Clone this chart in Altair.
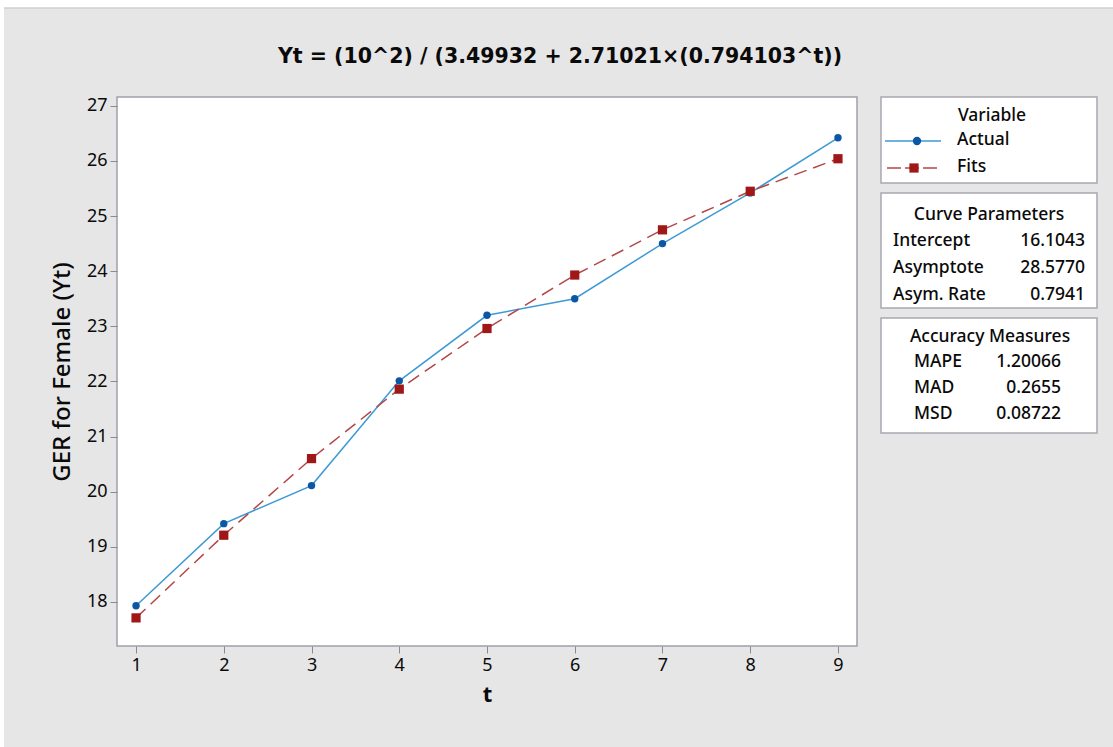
import altair as alt
import pandas as pd

# ---- data ----
t_values = [1, 2, 3, 4, 5, 6, 7, 8, 9]
actual = [17.93, 19.42, 20.11, 22.01, 23.20, 23.50, 24.50, 25.42, 26.42]
fits = [17.71, 19.21, 20.60, 21.86, 22.96, 23.93, 24.75, 25.45, 26.04]
y_ticks = [18, 19, 20, 21, 22, 23, 24, 25, 26, 27]
x_ticks = [1, 2, 3, 4, 5, 6, 7, 8, 9]

title_text = "Yt = (10^2) / (3.49932 + 2.71021×(0.794103^t))"
legend_title = "Variable"
series_names = ["Actual", "Fits"]
curve_title = "Curve Parameters"
curve_labels = ["Intercept", "Asymptote", "Asym. Rate"]
curve_values = ["16.1043", "28.5770", "0.7941"]
acc_title = "Accuracy Measures"
acc_labels = ["MAPE", "MAD", "MSD"]
acc_values = ["1.20066", "0.2655", "0.08722"]

FONT = "Noto Sans"
BLUE_LINE = "#3d9ad6"
BLUE_PT = "#0b57a6"
RED_LINE = "#b34747"
RED_PT = "#a01717"
BOX_STROKE = "#a8a8b0"
TXT = "#0a0a0a"

df = pd.DataFrame({"t": t_values, "Actual": actual, "Fits": fits})

xs = alt.Scale(domain=[0.783, 9.217], nice=False, zero=False)
ys = alt.Scale(domain=[17.2, 27.16], nice=False, zero=False)

x_enc = alt.X("t:Q", scale=xs, title="t",
              axis=alt.Axis(values=x_ticks, format="d", domain=False, grid=False,
                            tickColor="#8a8a94", tickSize=7, labelFontSize=18,
                            labelColor=TXT, labelPadding=3, titleFontSize=22,
                            titleFontWeight="bold", titlePadding=10, titleColor=TXT))

def y_enc(field):
    return alt.Y(f"{field}:Q", scale=ys, title="GER for Female (Yt)",
                 axis=alt.Axis(values=y_ticks, domain=False, grid=False,
                               tickColor="#8a8a94", tickSize=7, labelFontSize=18,
                               labelColor=TXT, labelPadding=3, titleFontSize=24,
                               titleFontWeight=500, titlePadding=12,
                               titleColor=TXT))

base = alt.Chart(df)
actual_line = base.mark_line(color=BLUE_LINE, strokeWidth=1.5).encode(x=x_enc, y=y_enc("Actual"))
actual_pts = base.mark_point(shape="circle", filled=True, color=BLUE_PT, size=55, opacity=1).encode(x=x_enc, y=y_enc("Actual"))
fits_line = base.mark_line(color=RED_LINE, strokeWidth=1.5, strokeDash=[13, 7]).encode(x=x_enc, y=y_enc("Fits"))
fits_pts = base.mark_square(color=RED_PT, size=85, opacity=1).encode(x=x_enc, y=y_enc("Fits"))

one = alt.Data(values=[{"a": 1}])

def txt(s, x, y, size=17.5, align="left", weight=500, font=FONT):
    return alt.Chart(one).mark_text(text=s, fontSize=size, align=align, baseline="middle",
                                    font=font, fontWeight=weight, color=TXT).encode(
        x=alt.value(x), y=alt.value(y))

def box(x1, y1, x2, y2, fill="white", stroke=BOX_STROKE, sw=1.5):
    return alt.Chart(one).mark_rect(fill=fill, stroke=stroke, strokeWidth=sw).encode(
        x=alt.value(x1), x2=alt.value(x2), y=alt.value(y1), y2=alt.value(y2))

def seg(x1, x2, y, color, dash=None):
    kw = dict(color=color, strokeWidth=1.5)
    if dash:
        kw["strokeDash"] = dash
    return alt.Chart(one).mark_rule(**kw).encode(x=alt.value(x1), x2=alt.value(x2), y=alt.value(y))

OX, OY = 117, 97  # plot origin in page pixels

layers = [
    # white page edge strips
    box(-OX, -OY, 1113 - OX, 8 - OY, fill="white", stroke="white", sw=0),
    box(-OX, -OY, 4 - OX, 747 - OY, fill="white", stroke="white", sw=0),
    seg(4 - OX, 1113 - OX, 8 - OY, "#cfcfcf"),
    actual_line, actual_pts, fits_line, fits_pts,
    txt(title_text, 560 - OX, 57 - OY, size=20.5, align="center", weight="bold", font="DejaVu Sans"),
    # legend box
    box(881 - OX, 97 - OY, 1097 - OX, 183 - OY),
    txt(legend_title, 992 - OX, 116 - OY, align="center"),
    seg(885 - OX, 941 - OX, 141 - OY, BLUE_LINE),
    alt.Chart(one).mark_point(shape="circle", filled=True, color=BLUE_PT, size=70, opacity=1).encode(
        x=alt.value(917 - OX), y=alt.value(141 - OY)),
    txt(series_names[0], 957 - OX, 140 - OY),
    seg(887 - OX, 940 - OX, 168 - OY, RED_LINE, dash=[14, 4]),
    alt.Chart(one).mark_square(color=RED_PT, size=85, opacity=1).encode(
        x=alt.value(914 - OX), y=alt.value(168 - OY)),
    txt(series_names[1], 957 - OX, 167 - OY),
    # curve parameters
    box(881 - OX, 193 - OY, 1097 - OX, 308 - OY),
    txt(curve_title, 989 - OX, 215 - OY, align="center"),
    # accuracy measures
    box(881 - OX, 318 - OY, 1097 - OX, 433 - OY),
    txt(acc_title, 990 - OX, 337 - OY, align="center"),
]
for i, (lab, val) in enumerate(zip(curve_labels, curve_values)):
    yy = 241 + i * 27 - OY
    layers.append(txt(lab, 893 - OX, yy))
    layers.append(txt(val, 1085 - OX, yy, align="right"))
for i, (lab, val) in enumerate(zip(acc_labels, acc_values)):
    yy = 362 + i * 26 - OY
    layers.append(txt(lab, 914 - OX, yy))
    layers.append(txt(val, 1061 - OX, yy, align="right"))

chart = alt.layer(*layers).properties(
    width=740, height=549,
    autosize=alt.AutoSizeParams(type="none"),
    padding={"left": OX, "top": OY, "right": 1113 - 857, "bottom": 747 - 646},
    background="#e6e6e6",
).configure_view(
    fill="white", stroke="#a0a0aa", strokeWidth=1.5
).configure_axis(
    labelFont=FONT, titleFont=FONT
)

chart.save("out.html", embed_options={"renderer": "svg", "actions": False})
